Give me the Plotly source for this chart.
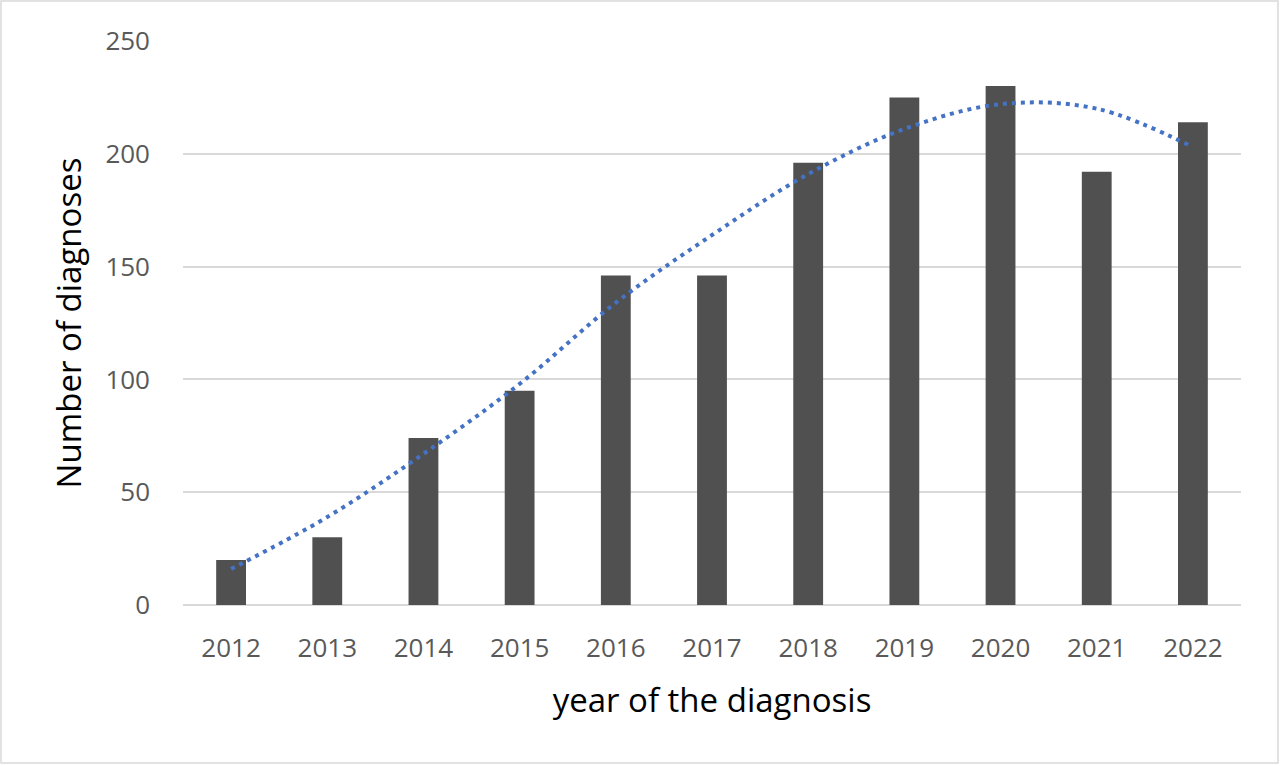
import plotly.graph_objects as go

# --- Data ---
years = [2012, 2013, 2014, 2015, 2016, 2017, 2018, 2019, 2020, 2021, 2022]
diagnoses = [20, 30, 74, 95, 146, 146, 196, 225, 230, 192, 214]
# dotted trend line, read at each year
trend_values = [16, 39, 67, 98, 134, 164, 191, 211, 222, 220, 203]

y_ticks = [0, 50, 100, 150, 200, 250]

# --- Layout settings ---
W, H = 1280, 766
M = dict(l=183, r=39, t=41, b=161)
TICK_FONT = dict(family="Open Sans", size=26, color="#595959")
TITLE_FONT = dict(family="Open Sans", size=33, color="#000000")

bar_trace = go.Bar(
    x=years, y=diagnoses,
    width=0.31,
    marker=dict(color="#505050", line_width=0),
    hoverinfo="x+y",
)

trend_trace = go.Scatter(
    x=years, y=trend_values,
    mode="lines",
    line=dict(color="#4472C4", width=4, dash="4px,5px", shape="spline", smoothing=1.0),
    hoverinfo="skip",
)

# chart border in paper coordinates (outer frame of the picture)
pw = W - M["l"] - M["r"]
ph = H - M["t"] - M["b"]
border = dict(
    type="rect", xref="paper", yref="paper",
    x0=(1 - M["l"]) / pw, x1=(W - 2 - M["l"]) / pw,
    y0=-(M["b"] - 3) / ph, y1=1 + (M["t"] - 1) / ph,
    line=dict(color="#d9d9d9", width=1.5),
)

fig = go.Figure(data=[bar_trace, trend_trace])
fig.update_layout(
    width=W, height=H,
    margin=M,
    plot_bgcolor="white", paper_bgcolor="white",
    showlegend=False,
    shapes=[border],
    xaxis=dict(
        range=[2011.5, 2022.5],
        tickvals=years,
        ticktext=[str(y) for y in years],
        tickfont=TICK_FONT,
        ticklabelstandoff=25,
        showgrid=False, zeroline=False,
        showline=False,
        title=dict(text="year of the diagnosis", font=TITLE_FONT, standoff=24),
    ),
    yaxis=dict(
        range=[0, 250],
        tickvals=y_ticks,
        tickfont=TICK_FONT,
        ticklabelstandoff=32,
        showgrid=True, gridcolor="#d9d9d9", gridwidth=1.5,
        zeroline=True, zerolinecolor="#d9d9d9", zerolinewidth=1.5,
        title=dict(text="Number of diagnoses", font=TITLE_FONT, standoff=13),
    ),
)

# drop the default page margin so the figure sits at the window's top-left corner
fig.write_html("out.html", config={"displayModeBar": False},
               post_script="document.body.style.margin='0';")
